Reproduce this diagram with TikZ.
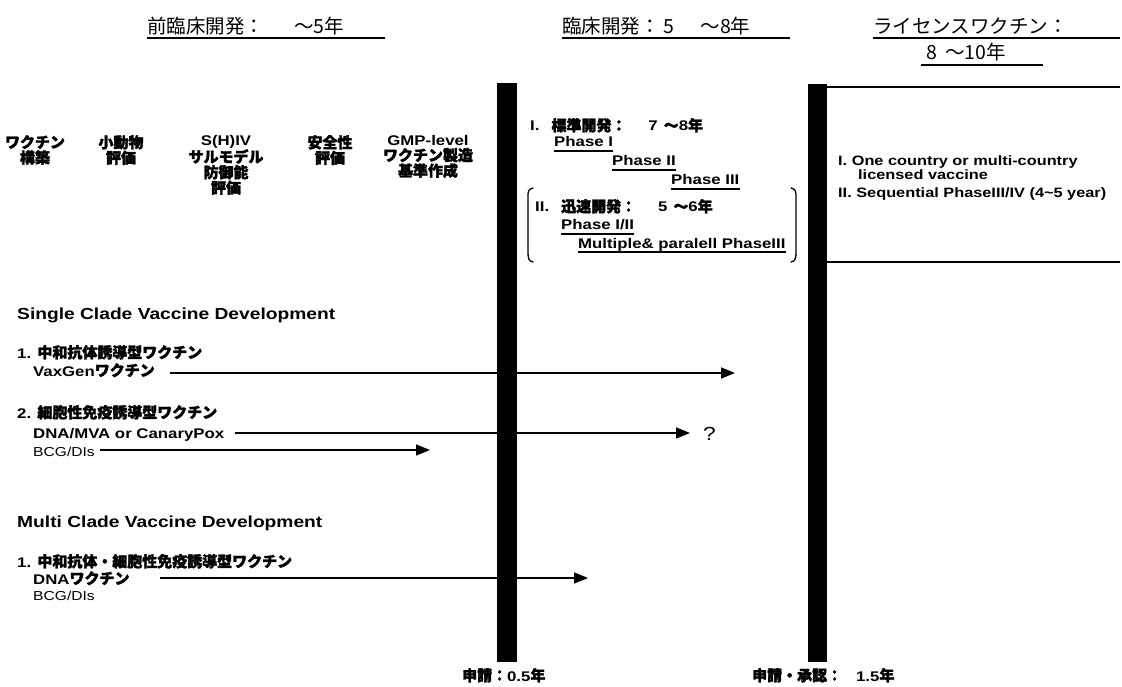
\documentclass[tikz,border=0pt]{standalone}
\usepackage{fontspec}
\setmainfont[FakeStretch=1.2]{Liberation Sans}
\newfontfamily\jpr{Noto Sans CJK JP}
\newfontfamily\jpb[FakeBold=2,Scale=1.07]{Noto Sans CJK JP}
\usetikzlibrary{arrows.meta}
\tikzset{
  txt/.style={inner sep=0pt, anchor=base west, font=\bfseries\fontsize{14}{15}\selectfont},
  boxtxt/.style={txt, font=\bfseries\fontsize{13.6}{15}\selectfont},
  head/.style={inner sep=0pt, anchor=base west, font=\jpr\fontsize{19.5}{22}\selectfont},
  colh/.style={inner sep=0pt, anchor=north, align=center, font=\bfseries\fontsize{14}{15.5}\selectfont},
  sec/.style={inner sep=0pt, anchor=base west, font=\bfseries\fontsize{16}{19}\selectfont},
  thin/.style={inner sep=0pt, anchor=base west, font=\fontsize{13}{14}\selectfont},
  uline/.style={line width=1.1pt},
  bar/.style={fill=black, draw=none},
  arr/.style={line width=1.5pt, -{Triangle[length=14pt,width=11pt]}},
  brk/.style={line width=1.3pt, line cap=round},
  boxline/.style={line width=2.2pt}
}
\begin{document}
\begin{tikzpicture}[x=1pt,y=-1pt]
\useasboundingbox (0,0) rectangle (1122,687);
% top headings
\node[head] (h1) at (147,34) {前臨床開発：\hspace{30pt}～5年};
\coordinate (h1e) at (385,38);
\draw[uline] (h1.base west |- h1e) -- (h1e);
\node[head] (h2) at (562,34) {臨床開発：\hspace{4pt}5\hspace{26pt}～8年};
\coordinate (h2e) at (790,38);
\draw[uline] (h2.base west |- h2e) -- (h2e);
\node[head] (h3) at (873,34) {ライセンスワクチン：};
\coordinate (h3e) at (1120,38);
\draw[uline] (h3.base west |- h3e) -- (h3e);
\node[head] (h4) at (926,60) {8\hspace{8pt}～10年};
\coordinate (h4s) at (921,65);
\coordinate (h4e) at (1043,65);
\draw[uline] (h4s) -- (h4e);
% column headings
\node[colh] (c1) at (35,135) {{\jpb ワクチン}\\{\jpb 構築}};
\node[colh] (c2) at (121,135) {{\jpb 小動物}\\{\jpb 評価}};
\node[colh] (c3) at (226,135) {S(H)IV\\{\jpb サルモデル}\\{\jpb 防御能}\\{\jpb 評価}};
\node[colh] (c4) at (330,135) {{\jpb 安全性}\\{\jpb 評価}};
\node[colh] (c5) at (428,135) {GMP-level\\{\jpb ワクチン製造}\\{\jpb 基準作成}};
% bars
\fill[bar] (497,83) rectangle (517,662);
\fill[bar] (808,84) rectangle (827,662);
\node[inner sep=0pt] (b1) at (507,662) {};
\node[inner sep=0pt] (b2) at (817,662) {};
% clinical panel
\node[txt] (p1) at (530,131) {I.\hspace{12pt}{\jpb 標準開発：}\hspace{22pt}7\hspace{6pt}{\jpb ～}8{\jpb 年}};
\node[txt] (p2) at (554,147) {Phase I};
\draw[uline] (p2.base west) ++(0,4) -- ([yshift=-4pt]p2.base east);
\node[txt] (p3) at (612,166) {Phase II};
\draw[uline] (p3.base west) ++(0,4) -- ([yshift=-4pt]p3.base east);
\node[txt] (p4) at (671,185) {Phase III};
\draw[uline] (p4.base west) ++(0,4) -- ([yshift=-4pt]p4.base east);
\node[txt] (p5) at (535,212) {II.\hspace{12pt}{\jpb 迅速開発：}\hspace{22pt}5\hspace{6pt}{\jpb ～}6{\jpb 年}};
\node[txt] (p6) at (561,230) {Phase I/II};
\draw[uline] (p6.base west) ++(0,4) -- ([yshift=-4pt]p6.base east);
\node[txt] (p7) at (578,248) {Multiple\& paralell PhaseIII};
\draw[uline] (p7.base west) ++(0,4) -- ([yshift=-4pt]p7.base east);
\coordinate (bl1) at (533,188);
\coordinate (bl2) at (533,262);
\coordinate (br1) at (791,188);
\coordinate (br2) at (791,262);
\draw[brk] (bl1) .. controls (528,189) and (528,192) .. (528,197) -- (528,253) .. controls (528,259) and (529,261) .. (bl2);
\draw[brk] (br1) .. controls (796,189) and (796,192) .. (796,197) -- (796,253) .. controls (796,259) and (795,261) .. (br2);
% licensed box
\coordinate (bx1) at (827,87);
\coordinate (bx2) at (1120,87);
\coordinate (bx3) at (827,262);
\coordinate (bx4) at (1120,262);
\draw[boxline] (bx1) -- (bx2);
\draw[boxline] (bx3) -- (bx4);
\node[boxtxt] (l1) at (838,166) {I. One country or multi-country};
\node[boxtxt] (l2) at (858,180) {licensed vaccine};
\node[boxtxt] (l3) at (838,198) {II. Sequential PhaseIII/IV (4\textasciitilde5 year)};
% single clade
\node[sec] (s0) at (17,319) {Single Clade Vaccine Development};
\node[txt] (s1) at (17,358) {1. {\jpb 中和抗体誘導型ワクチン}};
\node[txt] (s2) at (33,376) {VaxGen{\jpb ワクチン}};
\coordinate (a1s) at (170,373);
\coordinate (a1e) at (735,373);
\draw[arr] (a1s) -- (a1e);
\node[txt] (s3) at (17,418) {2. {\jpb 細胞性免疫誘導型ワクチン}};
\node[txt] (s4) at (33,438) {DNA/MVA or CanaryPox};
\coordinate (a2s) at (235,433);
\coordinate (a2e) at (690,433);
\draw[arr] (a2s) -- (a2e);
\node[inner sep=0pt, anchor=base west, font=\fontsize{19}{22}\selectfont] (q) at (703,440) {?};
\node[thin] (s5) at (33,456) {BCG/DIs};
\coordinate (a3s) at (100,450);
\coordinate (a3e) at (430,450);
\draw[arr] (a3s) -- (a3e);
% multi clade
\node[sec] (m0) at (17,527) {Multi Clade Vaccine Development};
\node[txt] (m1) at (17,567) {1. {\jpb 中和抗体・細胞性免疫誘導型ワクチン}};
\node[txt] (m2) at (33,584) {DNA{\jpb ワクチン}};
\coordinate (a4s) at (160,578);
\coordinate (a4e) at (588,578);
\draw[arr] (a4s) -- (a4e);
\node[thin] (m3) at (33,600) {BCG/DIs};
% bottom labels
\node[txt] (f1) at (462,681) {{\jpb 申請：}0.5{\jpb 年}};
\node[txt] (f2) at (752,681) {{\jpb 申請・承認：}\hspace{14pt}1.5{\jpb 年}};
\end{tikzpicture}
\end{document}
